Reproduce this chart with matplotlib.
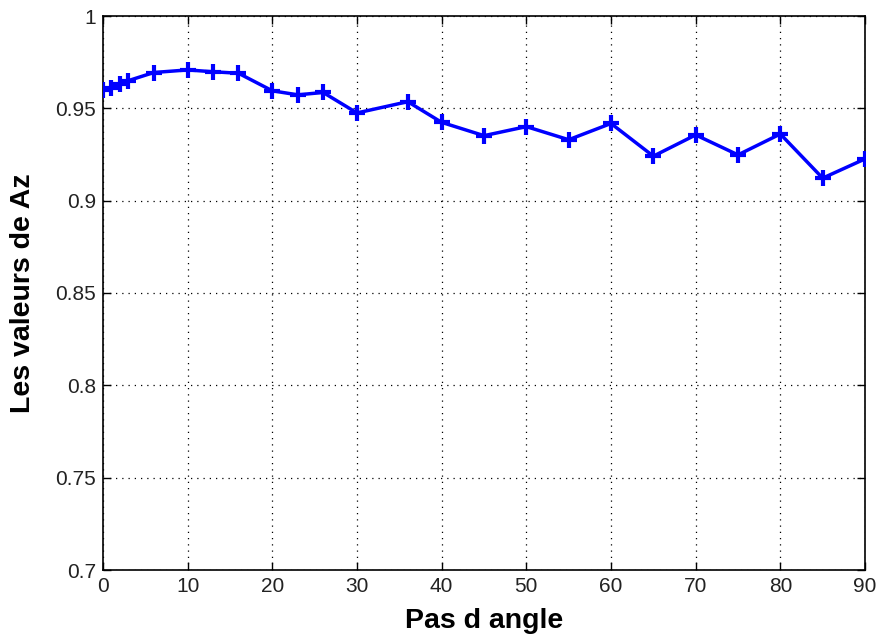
import matplotlib
matplotlib.use("Agg")
import matplotlib.pyplot as plt

angles = [0, 1, 2, 3, 6, 10, 13, 16, 20, 23, 26, 30, 36, 40, 45, 50, 55, 60, 65, 70, 75, 80, 85, 90]
az_values = [0.960, 0.961, 0.963, 0.965, 0.9694, 0.9708, 0.9698, 0.9690, 0.9595, 0.9573, 0.9586,
             0.9475, 0.9536, 0.9424, 0.9352, 0.9401, 0.9330, 0.9418, 0.9241, 0.9356, 0.9248,
             0.9361, 0.9122, 0.9226]
xticks = [0, 10, 20, 30, 40, 50, 60, 70, 80, 90]
yticks = [0.7, 0.75, 0.8, 0.85, 0.9, 0.95, 1.0]
yticklabels = ["0.7", "0.75", "0.8", "0.85", "0.9", "0.95", "1"]

plt.rcParams['font.family'] = ['Liberation Sans', 'DejaVu Sans']

fig = plt.figure(figsize=(8.77, 6.39), dpi=100)
ax = fig.add_axes([103/877, 69/639, 762/877, 554/639])

ax.plot(angles, az_values, color='#0000ff', linewidth=2.5, marker='+',
        markersize=11, markeredgewidth=3, zorder=3)

ax.set_xlim(0, 90)
ax.set_ylim(0.7, 1.0)
ax.set_xticks(xticks)
ax.set_yticks(yticks)
ax.set_yticklabels(yticklabels)
ax.grid(True, color='black', linestyle=(0, (1, 4)), linewidth=0.9)
ax.tick_params(direction='in', length=6, width=1, top=True, right=True,
               labelsize=15, labelcolor='#222222', pad=5)
for s in ax.spines.values():
    s.set_linewidth(1.2)

ax.set_xlabel('Pas d angle', fontsize=20.5, fontweight='bold', labelpad=9)
ax.set_ylabel('Les valeurs de Az', fontsize=20.5, fontweight='bold', labelpad=14)

fig.savefig('out.png', dpi=100)
